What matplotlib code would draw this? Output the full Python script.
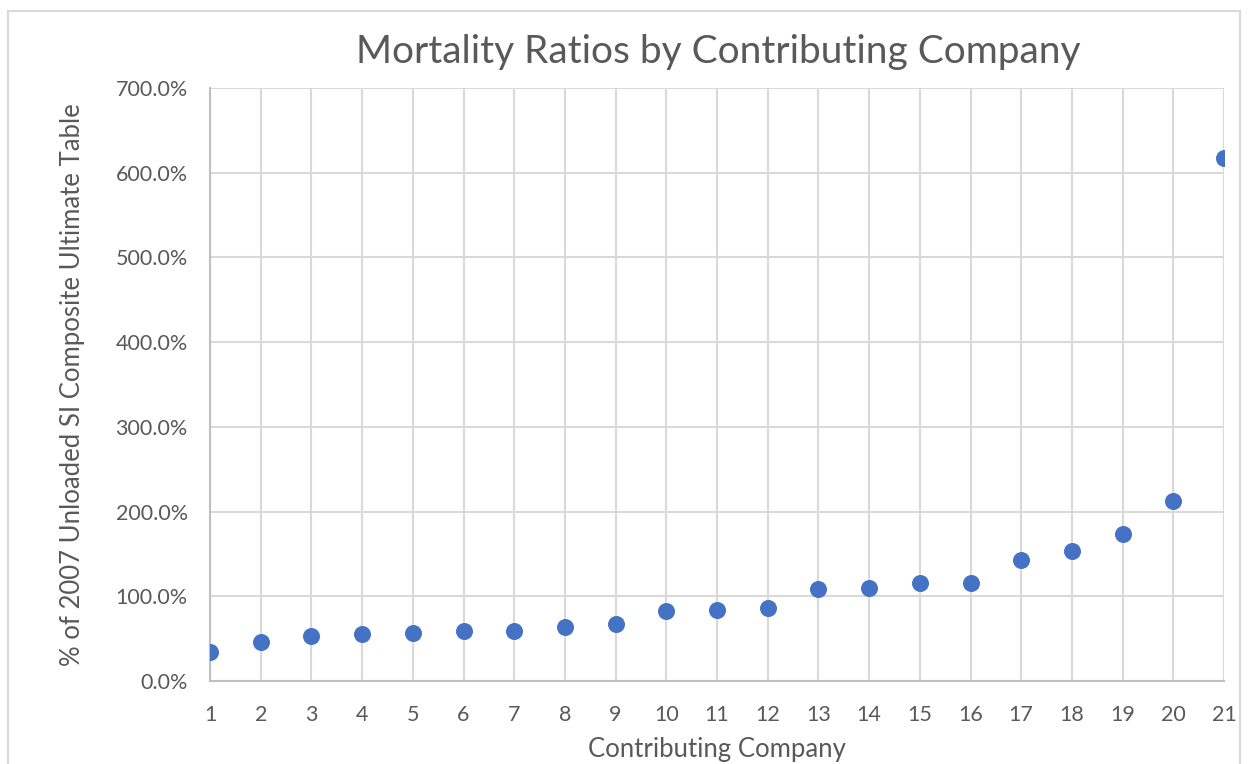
import matplotlib
matplotlib.use("Agg")
from matplotlib import pyplot as plt
from matplotlib.lines import Line2D
from matplotlib.ticker import FuncFormatter

companies = list(range(1, 22))
ratios = [34, 46, 53.6, 55.2, 56.7, 59.5, 59.5, 64.3, 67.4, 82.5, 84,
          85.8, 108.7, 110.3, 116.2, 116.2, 142.3, 153, 173.9, 213, 617]
y_ticks = [0, 100, 200, 300, 400, 500, 600, 700]

txt = "#595959"
plt.rcParams['font.family'] = ['Lato', 'DejaVu Sans']

fig = plt.figure(figsize=(12.49, 7.64), dpi=100)
ax = fig.add_axes([210/1249, 1 - 681/764, (1224 - 210)/1249, (681 - 88)/764])

ax.scatter(companies, ratios, s=150, c="#4472C4", zorder=3, linewidths=0)

ax.set_xlim(1, 21)
ax.set_ylim(0, 700)
ax.set_xticks(companies)
ax.set_yticks(y_ticks)
ax.yaxis.set_major_formatter(FuncFormatter(lambda v, p: "%.1f%%" % v))
ax.grid(True, color="#d9d9d9", linewidth=1.5, zorder=0)
ax.set_axisbelow(True)
for s in ["top", "right"]:
    ax.spines[s].set_visible(False)
for s in ["bottom", "left"]:
    ax.spines[s].set_color("#bfbfbf")
    ax.spines[s].set_linewidth(1.5)
ax.tick_params(length=0, labelsize=15.5, labelcolor=txt)
ax.tick_params(axis="y", pad=16)
ax.tick_params(axis="x", pad=17)

ax.set_xlabel("Contributing Company", fontsize=18.5, color=txt, labelpad=9)
ax.set_ylabel("% of 2007 Unloaded SI Composite Ultimate Table", fontsize=18.5, color=txt, labelpad=22)
fig.text(718/1249, 1 - 52/764, "Mortality Ratios by Contributing Company",
         ha="center", va="center", fontsize=28, color=txt)

# chart border
bc = "#d9d9d9"
fig.add_artist(Line2D([8/1249, 8/1249], [0, 1 - 11/764], transform=fig.transFigure, color=bc, lw=1.5))
fig.add_artist(Line2D([8/1249, 1240/1249], [1 - 11/764, 1 - 11/764], transform=fig.transFigure, color=bc, lw=1.5))
fig.add_artist(Line2D([1240/1249, 1240/1249], [0, 1 - 11/764], transform=fig.transFigure, color=bc, lw=1.5))

plt.savefig("out.png")
